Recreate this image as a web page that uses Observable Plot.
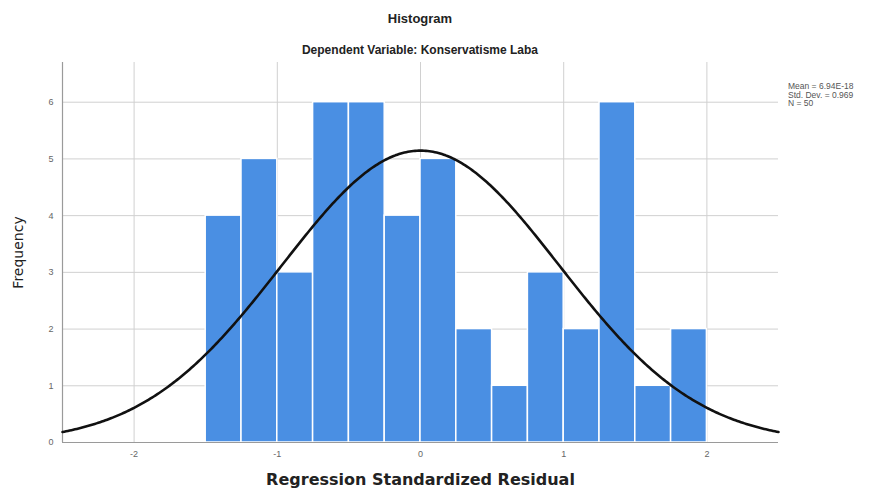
<!DOCTYPE html>
<html>
<head>
<meta charset="utf-8">
<script src="https://cdn.jsdelivr.net/npm/d3@7"></script>
<script src="https://cdn.jsdelivr.net/npm/@observablehq/plot@0.6"></script>
<style>
  html, body { margin: 0; padding: 0; background: #fff; }
  #wrap { position: relative; width: 893px; height: 495px; font-family: "Liberation Sans", Arial, sans-serif; }
  #head { height: 58px; }
  #title { position: absolute; left: 0; width: 840px; top: 11px; font-weight: bold; font-size: 13px; color: #222; text-align: center; }
  #subtitle { position: absolute; left: 0; width: 840px; top: 43px; font-weight: bold; font-size: 12px; color: #222; text-align: center; }
  #legend { position: absolute; left: 788px; top: 82px; font-size: 8.5px; line-height: 8.5px; color: #555; white-space: nowrap; }
  svg { display: block; }
</style>
</head>
<body>
<div id="wrap">
  <div id="head"></div>
  <div id="title">Histogram</div>
  <div id="subtitle">Dependent Variable: Konservatisme Laba</div>
  <div id="legend"></div>
  <div id="chart"></div>
</div>
<script>
// ---- data ----
const binStarts = [-1.5, -1.25, -1.0, -0.75, -0.5, -0.25, 0, 0.25, 0.5, 0.75, 1.0, 1.25, 1.5, 1.75];
const counts    = [4, 5, 3, 6, 6, 4, 5, 2, 1, 3, 2, 6, 1, 2];
const binWidth  = 0.25;
const statMean  = 6.94e-18;
const statSD    = 0.969;
const statN     = 50;
const legendLines = ["Mean = 6.94E-18", "Std. Dev. = 0.969", "N = 50"];
const xTicks = [-2, -1, 0, 1, 2];
const yTicks = [0, 1, 2, 3, 4, 5, 6];
const xDomain = [-2.5, 2.5];
const yDomain = [0, 6.7];
const xLabel = "Regression Standardized Residual";
const yLabel = "Frequency";

// ---- derived tables ----
const bars = binStarts.map((x, i) => ({x1: x, x2: x + binWidth, y: counts[i]}));
// fitted normal curve implied by Mean, Std. Dev. and N
const curve = d3.range(0, 401).map(i => {
  const x = xDomain[0] + (xDomain[1] - xDomain[0]) * i / 400;
  const z = (x - statMean) / statSD;
  return {x, y: statN * binWidth * Math.exp(-0.5 * z * z) / (statSD * Math.sqrt(2 * Math.PI))};
});

document.getElementById("legend").innerHTML = legendLines.map(s => `<div>${s}</div>`).join("");

const fmt = d => String(d);

const chart = Plot.plot({
  width: 893,
  height: 437,
  marginTop: 4,
  marginLeft: 62,
  marginRight: 115,
  marginBottom: 53,
  style: {fontFamily: "Liberation Sans, Arial, sans-serif", background: "#fff"},
  x: {domain: xDomain, ticks: xTicks, label: null},
  y: {domain: yDomain, ticks: yTicks, label: null},
  marks: [
    Plot.gridX(xTicks, {stroke: "#d0d0d0", strokeOpacity: 1, strokeWidth: 1}),
    Plot.gridY(yTicks.filter(d => d > 0), {stroke: "#d0d0d0", strokeOpacity: 1, strokeWidth: 1}),
    Plot.rectY(bars, {x1: "x1", x2: "x2", y: "y", fill: "#4a8fe3", stroke: "#ffffff", strokeWidth: 1.5}),
    Plot.ruleX([xDomain[0]], {stroke: "#9a9a9a", strokeWidth: 1.2}),
    Plot.ruleY([0], {stroke: "#9a9a9a", strokeWidth: 1.2}),
    Plot.line(curve, {x: "x", y: "y", stroke: "#111", strokeWidth: 2.6}),
    Plot.axisX(xTicks, {tickSize: 0, tickPadding: 8, fontSize: 9, fill: "#666", label: null, tickFormat: fmt}),
    Plot.axisY(yTicks, {tickSize: 0, tickPadding: 9, fontSize: 9, fill: "#666", label: null, tickFormat: fmt}),
    Plot.text([xLabel], {frameAnchor: "bottom", dy: 42, text: d => d, fontSize: 16, fontWeight: "bold", fill: "#222", fontFamily: "DejaVu Sans"}),
    Plot.text([yLabel], {frameAnchor: "left", textAnchor: "middle", dx: -44, rotate: -90, text: d => d, fontSize: 14, fill: "#222", fontFamily: "DejaVu Sans"})
  ]
});
document.getElementById("chart").appendChild(chart);
</script>
</body>
</html>
